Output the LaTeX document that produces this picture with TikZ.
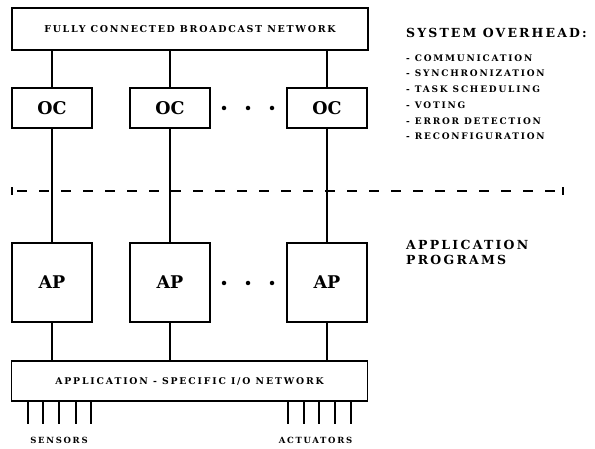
\documentclass[tikz,border=0pt]{standalone}
\usepackage{fontspec}
\setmainfont{DejaVu Serif}
\newcommand{\spc}[2]{{\addfontfeatures{LetterSpace=#1}#2}}
\tikzset{
  box/.style={draw, line width=1.1pt, inner sep=0pt, font=\bfseries},
  conn/.style={line width=1.1pt},
  lab/.style={inner sep=0pt, font=\bfseries},
  dotm/.style={circle, fill, inner sep=0pt, minimum size=4.5pt},
}
\begin{document}
\begin{tikzpicture}[x=1pt,y=-1pt]
\useasboundingbox (0,0) rectangle (595,449);
% top network
\node[box, minimum width=356pt, minimum height=42pt, font=\bfseries\fontsize{9.5}{11}\selectfont] (net) at (190,29) {\spc{18}{FULLY CONNECTED BROADCAST NETWORK}};
% OC and AP boxes
\foreach \i/\x in {1/52,2/170,3/327}{
  \node[box, minimum width=80pt, minimum height=40pt, font=\bfseries\fontsize{17.5}{20}\selectfont] (oc\i) at (\x,108) {OC};
  \node[box, minimum width=80pt, minimum height=79pt, font=\bfseries\fontsize{17.5}{20}\selectfont] (ap\i) at (\x,282.5) {AP};
}
% IO network
\node[box, minimum width=356pt, minimum height=40pt, font=\bfseries\fontsize{9.3}{11}\selectfont] (io) at (189.5,381) {\spc{20}{APPLICATION - SPECIFIC I/O NETWORK}};
% connectors
\foreach \i in {1,2,3}{
  \draw[conn] (oc\i.north) -- (oc\i.north |- net.south);
  \draw[conn] (oc\i.south) -- (ap\i.north);
  \draw[conn] (ap\i.south) -- (ap\i.south |- io.north);
}
% dots
\foreach \x in {224,248,272}{
  \node[dotm] (du\x) at (\x,108) {};
  \node[dotm] (dl\x) at (\x,283) {};
}
% dashed separator
\coordinate (dl) at (12,191);
\coordinate (dr) at (563,191);
\draw[line width=1.1pt, dash pattern=on 10pt off 12pt, dash phase=17pt] (dl) -- (dr);
\draw[line width=1.1pt] ([yshift=-4pt]dl) -- ([yshift=4pt]dl);
\draw[line width=1.1pt] ([yshift=-4pt]dr) -- ([yshift=4pt]dr);
% sensors / actuators
\foreach \x in {28,43,59,76,91,288,304,319,335,351}{
  \coordinate (s\x) at (\x,424);
  \draw[conn] (s\x |- io.south) -- (s\x);
}
\node[lab, font=\bfseries\fontsize{8.5}{10}\selectfont] (sen) at (59,440) {\spc{20}{SENSORS}};
\node[lab, font=\bfseries\fontsize{8.5}{10}\selectfont] (act) at (315.5,440) {\spc{20}{ACTUATORS}};
% right side texts
\node[lab, anchor=west, font=\bfseries\fontsize{12.5}{14}\selectfont] (so) at (406,33) {\spc{17}{SYSTEM OVERHEAD:}};
\foreach \t/\y [count=\k] in {COMMUNICATION/58, SYNCHRONIZATION/73, TASK SCHEDULING/89, VOTING/105, ERROR DETECTION/121, RECONFIGURATION/136}{
  \node[lab, anchor=west, font=\bfseries\fontsize{9}{11}\selectfont] (it\k) at (406,\y) {\spc{20}{- \t}};
}
\node[lab, anchor=west, align=left, font=\bfseries\fontsize{12.5}{15}\selectfont] (apl) at (406,252.5) {\spc{18}{APPLICATION}\\\spc{18}{PROGRAMS}};
\end{tikzpicture}
\end{document}
